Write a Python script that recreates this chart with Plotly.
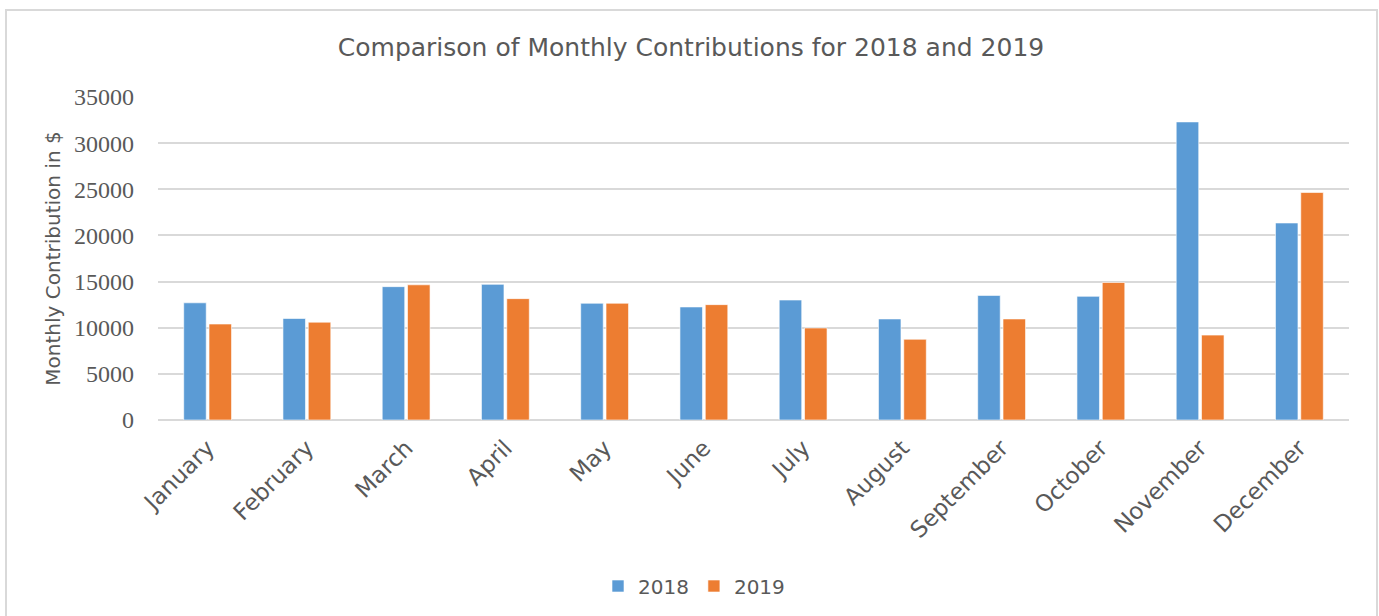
import plotly.graph_objects as go

months = ["January", "February", "March", "April", "May", "June", "July",
          "August", "September", "October", "November", "December"]
values_2018 = [12700, 11000, 14450, 14700, 12650, 12250, 13000, 10950, 13500, 13400, 32300, 21350]
values_2019 = [10400, 10600, 14650, 13150, 12650, 12500, 9970, 8750, 10950, 14900, 9200, 24650]
y_ticks = [0, 5000, 10000, 15000, 20000, 25000, 30000, 35000]

W, H = 1379, 616
L, R, T, B = 158, 1349, 97, 420
pw, ph = R - L, B - T

def px_x(px):
    return (px - L) / pw

def px_y(py):
    return (B - py) / ph

GRAY = "#595959"
SANS = "DejaVu Sans, Open Sans, sans-serif"

fig = go.Figure()
fig.add_trace(go.Bar(name="2018", x=months, y=values_2018,
                     marker=dict(color="#5B9BD5", line=dict(color="rgba(255,255,255,0.6)", width=1))))
fig.add_trace(go.Bar(name="2019", x=months, y=values_2019,
                     marker=dict(color="#ED7D31", line=dict(color="rgba(255,255,255,0.6)", width=1))))

fig.update_layout(
    width=W, height=H,
    margin=dict(l=L, r=W - R, t=T, b=H - B, autoexpand=False),
    paper_bgcolor="white", plot_bgcolor="white",
    barmode="group", bargap=0.49, bargroupgap=0.11,
    title=dict(text="Comparison of Monthly Contributions for 2018 and 2019",
               x=691 / W, xref="container", xanchor="center",
               y=1 - 47 / H, yref="container", yanchor="middle",
               font=dict(family=SANS, size=25, color=GRAY)),
    legend=dict(orientation="h", x=px_x(694), xanchor="center", y=px_y(586), yanchor="middle",
                font=dict(family=SANS, size=20, color=GRAY), itemwidth=30,
                traceorder="normal"),
    showlegend=True,
    shapes=[dict(type="rect", xref="paper", yref="paper",
                 x0=px_x(6), x1=px_x(1377), y0=px_y(640), y1=px_y(10),
                 line=dict(color="#d9d9d9", width=2), fillcolor="rgba(0,0,0,0)", layer="below")],
)

fig.update_xaxes(
    tickangle=-45, tickfont=dict(family=SANS, size=23, color=GRAY),
    showgrid=False, showline=False, zeroline=False,
    ticks="", ticklabelstandoff=9,
)
fig.update_yaxes(
    range=[0, 35000], tickvals=y_ticks, ticktext=[str(v) for v in y_ticks],
    tickfont=dict(family="Liberation Serif, Times New Roman, serif", size=24, color=GRAY),
    showgrid=True, gridcolor="#d9d9d9", gridwidth=2,
    zeroline=True, zerolinecolor="#d9d9d9", zerolinewidth=2,
    showline=False, ticks="", ticklabelstandoff=23,
    title=dict(text="Monthly Contribution in $", standoff=8,
               font=dict(family=SANS, size=20, color=GRAY)),
)

fig.write_html("out.html", config={"displayModeBar": False},
               post_script="document.body.style.margin='0';")
